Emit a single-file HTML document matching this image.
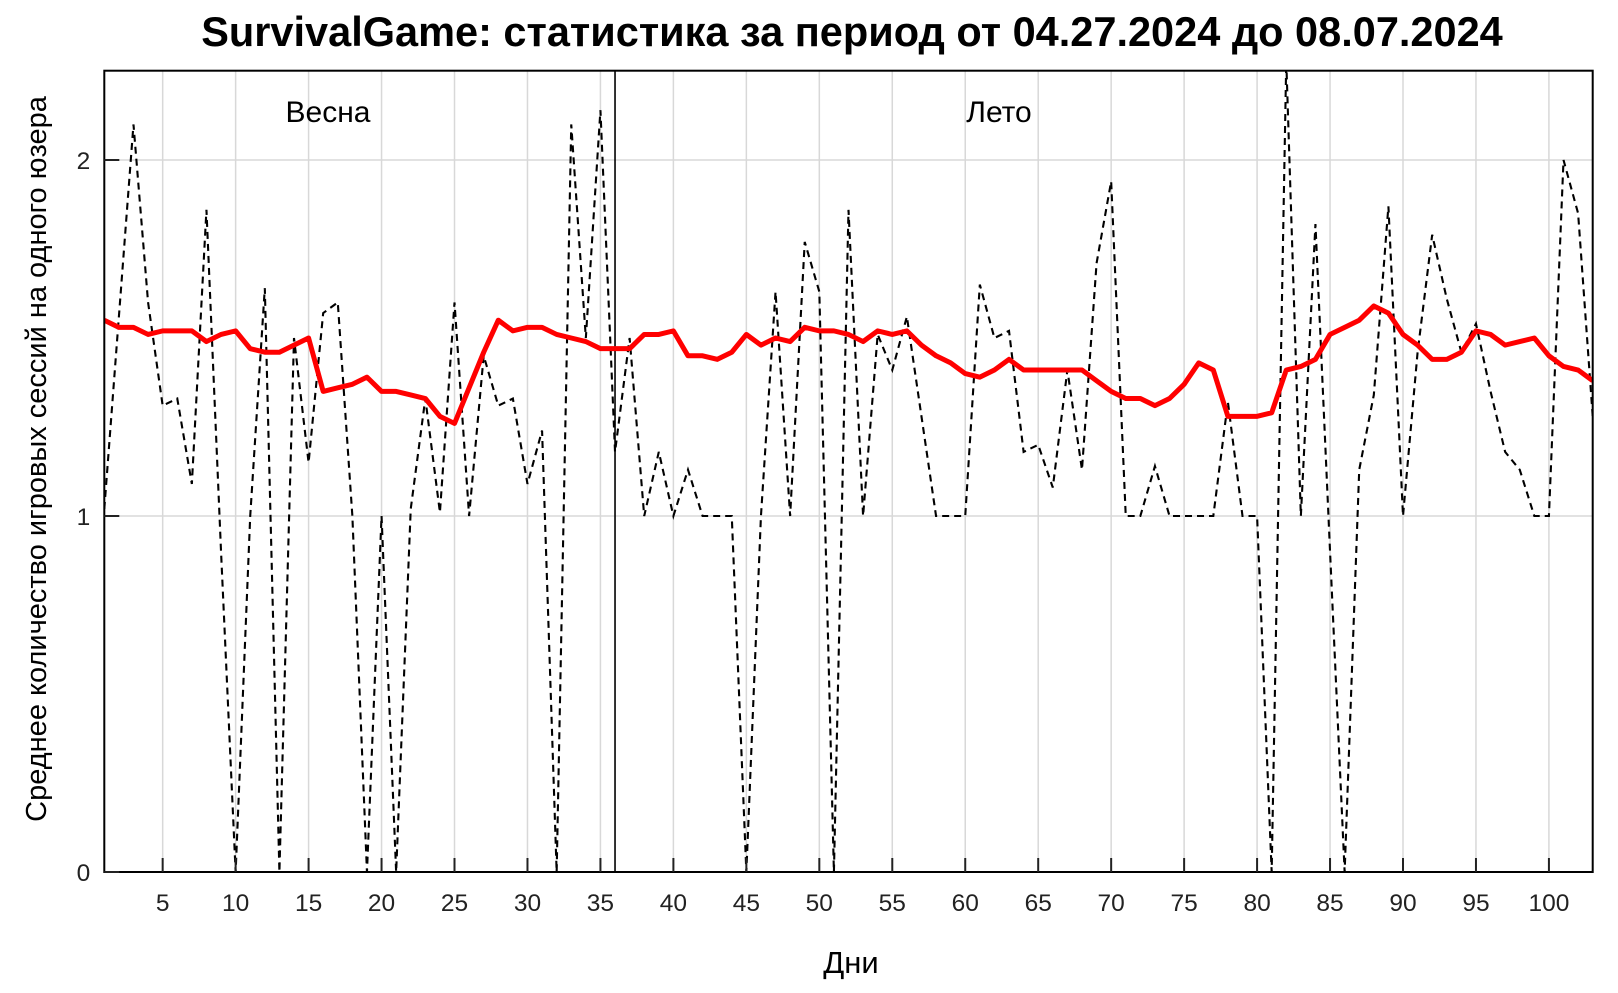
<!DOCTYPE html>
<html><head><meta charset="utf-8"><style>
html,body{margin:0;padding:0;background:#fff;}
svg text{font-family:"Liberation Sans",sans-serif;}
</style></head><body>
<svg id="chart" width="1618" height="988" viewBox="0 0 1618 988" xmlns="http://www.w3.org/2000/svg">
<text x="852" y="46" text-anchor="middle" font-size="41.5" font-weight="bold">SurvivalGame: статистика за период от 04.27.2024 до 08.07.2024</text>
<g id="grid"></g>
<g id="series"></g>
<rect x="104.3" y="70.7" width="1488.4" height="801.3" fill="none" stroke="#000" stroke-width="2"/>
<g id="axes"></g>
<text x="328" y="122" text-anchor="middle" font-size="30">Весна</text>
<text x="999" y="122" text-anchor="middle" font-size="30">Лето</text>
<text x="851" y="973" text-anchor="middle" font-size="31">Дни</text>
<text transform="translate(46,459) rotate(-90)" text-anchor="middle" font-size="29">Среднее количество игровых сессий на одного юзера</text>
</svg>
<script>
const days = Array.from({length:103},(_,i)=>i+1);
const dailyValues = [1.02,1.56,2.10,1.60,1.31,1.33,1.09,1.86,0.9,0,1.0,1.64,0,1.50,1.15,1.57,1.60,1.0,0,1.0,0,1.02,1.33,1.01,1.60,
1.0,1.45,1.31,1.33,1.09,1.24,0,2.10,1.50,2.14,1.18,1.50,1.0,1.18,1.0,1.13,1.0,1.0,1.0,0,1.0,1.63,1.0,1.77,1.63,
0,1.86,1.0,1.51,1.41,1.56,1.28,1.0,1.0,1.0,1.65,1.50,1.52,1.18,1.20,1.08,1.41,1.13,1.71,1.94,1.0,1.0,1.14,1.0,1.0,
1.0,1.0,1.32,1.0,1.0,0,2.3,1.0,1.82,0.9,0,1.13,1.34,1.87,1.0,1.46,1.79,1.61,1.46,1.54,1.35,1.18,1.13,1.0,1.0,2.0,1.85,1.28];
const avgValues = [1.55,1.53,1.53,1.51,1.52,1.52,1.52,1.49,1.51,1.52,1.47,1.46,1.46,1.48,1.50,1.35,1.36,1.37,1.39,1.35,1.35,1.34,1.33,1.28,1.26,
1.36,1.46,1.55,1.52,1.53,1.53,1.51,1.50,1.49,1.47,1.47,1.47,1.51,1.51,1.52,1.45,1.45,1.44,1.46,1.51,1.48,1.50,1.49,1.53,1.52,
1.52,1.51,1.49,1.52,1.51,1.52,1.48,1.45,1.43,1.40,1.39,1.41,1.44,1.41,1.41,1.41,1.41,1.41,1.38,1.35,1.33,1.33,1.31,1.33,1.37,
1.43,1.41,1.28,1.28,1.28,1.29,1.41,1.42,1.44,1.51,1.53,1.55,1.59,1.57,1.51,1.48,1.44,1.44,1.46,1.52,1.51,1.48,1.49,1.50,1.45,1.42,1.41,1.38];
const xTicks = [5,10,15,20,25,30,35,40,45,50,55,60,65,70,75,80,85,90,95,100];
const yTicks = [0,1,2];
const seasonSplitDay = 36;

const L=104.3,R=1592.7,T=70.7,B=872;
const xS=d=>L+(d-1)*(R-L)/102;
const yS=v=>Math.max(T-10,B-v*356);
const NS='http://www.w3.org/2000/svg';
function mk(tag,attrs,parent){const e=document.createElementNS(NS,tag);for(const k in attrs)e.setAttribute(k,attrs[k]);parent.appendChild(e);return e;}
const grid=document.getElementById('grid'),axes=document.getElementById('axes'),series=document.getElementById('series');
xTicks.forEach(t=>{
  const g=mk('line',{x1:xS(t),x2:xS(t),y1:T,y2:B,stroke:'#d8d8d8','stroke-width':1.5},grid);
  
  
  const tk=mk('line',{x1:xS(t),x2:xS(t),y1:B-14,y2:B,stroke:'#222','stroke-width':2},axes);
  
  
  const lb=mk('text',{x:xS(t),y:B+39,'text-anchor':'middle','font-size':24.5,fill:'#222'},axes);
  lb.textContent=t;
  
  
});
yTicks.forEach(t=>{
  const g=mk('line',{x1:L,x2:R,y1:yS(t),y2:yS(t),stroke:'#d8d8d8','stroke-width':1.5},grid);
  
  
  const tk=mk('line',{x1:L,x2:L+15,y1:yS(t),y2:yS(t),stroke:'#222','stroke-width':2},axes);
  
  
  const lb=mk('text',{x:L-14,y:yS(t)+9,'text-anchor':'end','font-size':24.5,fill:'#222'},axes);
  lb.textContent=t;
  
  
});
const sp=mk('line',{x1:xS(seasonSplitDay),x2:xS(seasonSplitDay),y1:T,y2:B,stroke:'#000','stroke-width':1.6},series);


const clip=mk('clipPath',{id:'pc'},series);
mk('rect',{x:L,y:T,width:R-L,height:B-T},clip);
const dl=mk('polyline',{points:days.map((d,i)=>xS(d)+','+yS(dailyValues[i])).join(' '),fill:'none',stroke:'#000','stroke-width':2.1,'stroke-dasharray':'7,5','clip-path':'url(#pc)'},series);


const al=mk('polyline',{points:days.map((d,i)=>xS(d)+','+yS(avgValues[i])).join(' '),fill:'none',stroke:'#ff0000','stroke-width':5,'stroke-linejoin':'round','clip-path':'url(#pc)'},series);


</script>
</body></html>
